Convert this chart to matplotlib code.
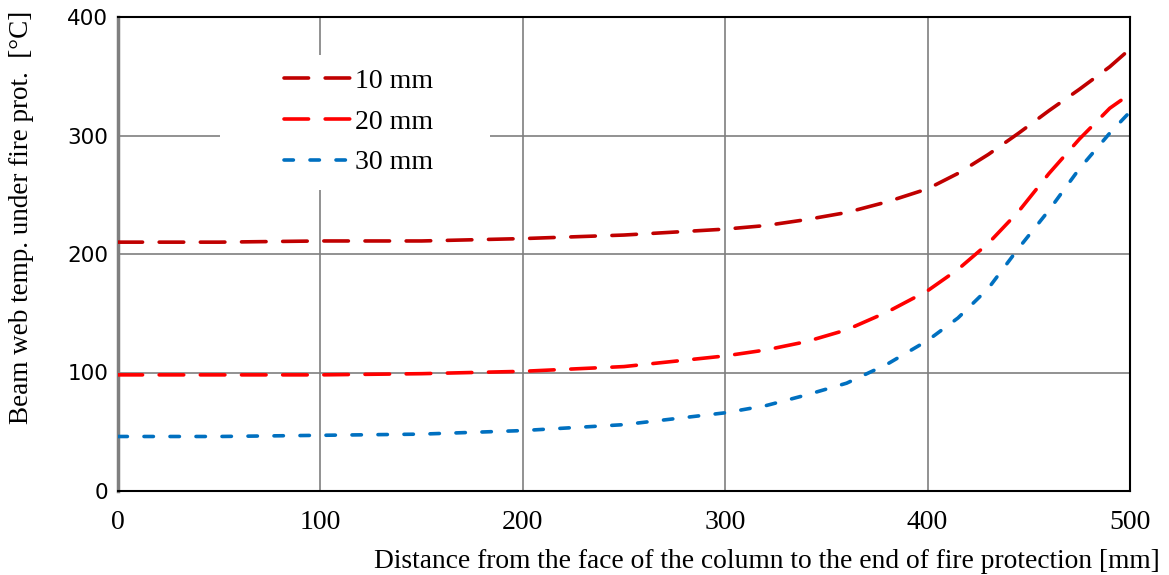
import matplotlib
matplotlib.use("Agg")
import matplotlib.pyplot as plt
from matplotlib.patches import Rectangle

# distance from column face [mm]
distance = [0, 50, 100, 150, 200, 250, 300, 320, 340, 360, 380, 400,
            415, 430, 445, 460, 475, 490, 500]

# beam web temperature [degC] for each fire protection thickness
temp_10mm = [210, 210, 211, 211, 213, 216, 221, 224, 229, 235, 244, 255,
             268, 284, 302, 321, 339, 358, 373]
temp_20mm = [98, 98, 98, 99, 101, 105, 114, 119, 126, 136, 151, 169,
             187, 209, 236, 268, 297, 323, 335]
temp_30mm = [46, 46, 47, 48, 51, 56, 66, 72, 81, 91, 107, 127,
             146, 171, 205, 237, 272, 302, 320]

labels = ["10 mm", "20 mm", "30 mm"]
x_ticks = [0, 100, 200, 300, 400, 500]
y_ticks = [0, 100, 200, 300, 400]

fig = plt.figure(figsize=(11.69, 5.75), dpi=100)
ax = fig.add_axes([118 / 1169, 1 - 491 / 575, (1130 - 118) / 1169, (491 - 17) / 575])

lw = 2.6
long_dash = (6.8, 4.6)
short_dash = (2.6, 4.6)
ax.plot(distance, temp_10mm, color="#C00000", lw=lw, dashes=long_dash,
        dash_capstyle="round", label=labels[0], zorder=3)
ax.plot(distance, temp_20mm, color="#FF0000", lw=lw, dashes=long_dash,
        dash_capstyle="round", label=labels[1], zorder=3)
ax.plot(distance, temp_30mm, color="#0070C0", lw=lw, dashes=short_dash,
        dash_capstyle="round", label=labels[2], zorder=3)

ax.set_xlim(0, 500)
ax.set_ylim(0, 400)
ax.set_xticks(x_ticks)
ax.set_yticks(y_ticks)
ax.set_axisbelow(True)
ax.grid(True, color="#7f7f7f", lw=1.2)

ax.tick_params(length=0)
ax.tick_params(axis="x", pad=14, labelsize=20)
ax.tick_params(axis="y", pad=7, labelsize=15.5)
for t in ax.get_xticklabels():
    t.set_fontfamily("Liberation Serif")
for t in ax.get_yticklabels():
    t.set_fontfamily("DejaVu Sans")

for side in ["top", "right", "bottom"]:
    ax.spines[side].set_color("black")
    ax.spines[side].set_linewidth(1.5)
ax.spines["left"].set_color("#7f7f7f")
ax.spines["left"].set_linewidth(2.5)

# white patch behind the legend, hides the grid there
ax.add_patch(Rectangle(((220 - 118) / 1012, (491 - 190) / 474), 270 / 1012, 135 / 474,
                       transform=ax.transAxes, facecolor="white", edgecolor="none", zorder=1))

leg = ax.legend(loc="center left", bbox_to_anchor=((284 - 118) / 1012, (491 - 122) / 474),
                frameon=False, borderpad=0, borderaxespad=0, handlelength=2.4,
                handletextpad=0.15, labelspacing=0.55,
                prop={"family": "Liberation Serif", "size": 20})

fig.text(1160 / 1169, 1 - 561 / 575,
         "Distance from the face of the column to the end of fire protection [mm]",
         ha="right", va="center", fontsize=19.8, family="Liberation Serif")
fig.text(22 / 1169, 1 - 217 / 575, "Beam web temp. under fire prot.  [\u00b0C]",
         rotation=90, ha="center", va="center", fontsize=19.5, family="Liberation Serif")

fig.savefig("out.png", dpi=100)
